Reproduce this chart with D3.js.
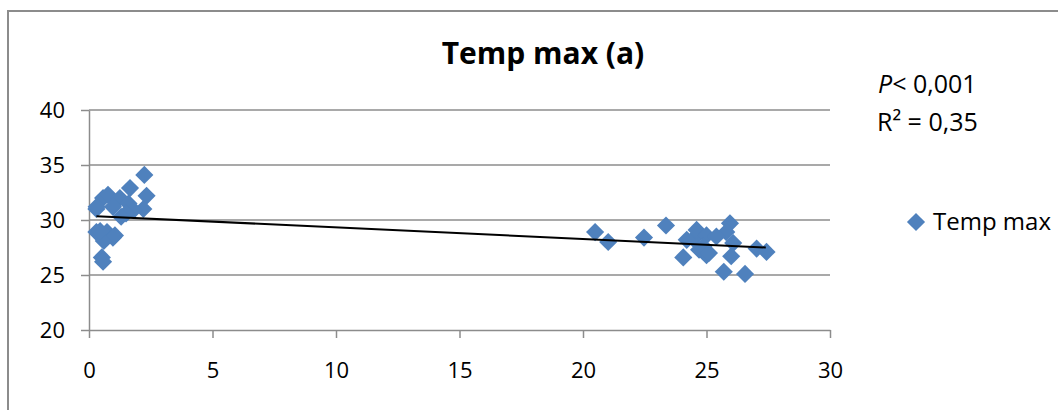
<!DOCTYPE html>
<html>
<head>
<meta charset="utf-8">
<script src="https://cdn.jsdelivr.net/npm/d3@7"></script>
<style>
  body { margin: 0; background: #fff; }
  svg { display: block; font-family: "Open Sans", "Liberation Sans", sans-serif; }
</style>
</head>
<body>
<svg id="graph"></svg>
<script>
// points (jours, temp max)
var dayValues = [0.3, 0.57, 0.77, 1.25, 1.66, 2.24, 2.33, 0.31, 0.97, 1.6, 2.2, 1.8, 1.5, 0.3, 0.73, 0.97, 0.6, 1.05, 0.52, 0.57, 0.45, 1.3,
                 20.49, 21.02, 22.47, 23.36, 24.06, 24.47, 24.6, 25.0, 25.0, 24.87, 25.95, 25.8, 25.4, 26.08, 26.0, 25.7, 26.56, 27.03, 27.43, 24.2, 24.7, 25.1];
var tempValues = [31.0, 32.0, 32.3, 32.0, 32.9, 34.1, 32.2, 31.2, 31.2, 31.5, 31.0, 30.9, 30.6, 28.9, 28.9, 28.4, 28.1, 28.6, 26.6, 26.2, 29.0, 30.3,
                  28.9, 28.0, 28.4, 29.5, 26.6, 28.3, 29.1, 28.6, 26.8, 27.6, 29.7, 28.9, 28.5, 27.9, 26.7, 25.3, 25.1, 27.4, 27.1, 28.2, 27.3, 27.0];
// courbe de tendance (extrémités)
var trendX = [0.3, 27.4];
var trendY = [30.35, 27.5];
var xTicks = [0, 5, 10, 15, 20, 25, 30];
var yTicks = [20, 25, 30, 35, 40];
var titleText = "Temp max (a)";
var seriesName = "Temp max";

var w = 1058, h = 410;
var svg = d3.select("#graph").attr("width", w).attr("height", h);

// cadre du graphique
svg.append("rect")
    .attr("x", 8).attr("y", 11)
    .attr("width", 1100).attr("height", 450)
    .attr("fill", "none")
    .attr("stroke", "#8c8c8c")
    .attr("stroke-width", 2);

var scaleX = d3.scaleLinear().domain([0, 30]).range([89, 830]);
var scaleY = d3.scaleLinear().domain([20, 40]).range([330, 110]);

// grille horizontale
svg.append("g").selectAll("line")
    .data(yTicks.slice(1))
    .enter().append("line")
    .attr("x1", scaleX(0)).attr("x2", scaleX(30))
    .attr("y1", function(d){ return scaleY(d); })
    .attr("y2", function(d){ return scaleY(d); })
    .attr("stroke", "#8c8c8c")
    .attr("stroke-width", 1.5);

var axisX = d3.axisBottom(scaleX).tickValues(xTicks).tickSize(8).tickPadding(24).tickSizeOuter(0);
var axisY = d3.axisLeft(scaleY).tickValues(yTicks).tickSize(8).tickPadding(16).tickSizeOuter(0);

var gx = svg.append("g")
    .attr("transform", "translate(0," + scaleY(20) + ")")
    .call(axisX);
var gy = svg.append("g")
    .attr("transform", "translate(" + scaleX(0) + ",0)")
    .call(axisY);

[gx, gy].forEach(function(g){
    g.selectAll("path, line").attr("stroke", "#8c8c8c").attr("stroke-width", 1.5);
    g.selectAll("text").attr("fill", "#000").attr("font-size", 22).attr("font-family", "Open Sans, sans-serif");
});
gy.selectAll("text").attr("dy", "0.35em");

// points
var diamond = d3.symbol().type(d3.symbolDiamond2).size(210);
svg.append("g").selectAll("path")
    .data(dayValues)
    .enter().append("path")
    .attr("d", diamond)
    .attr("transform", function(d, i){ return "translate(" + scaleX(d) + "," + scaleY(tempValues[i]) + ")"; })
    .attr("fill", "#4f81bd");

// tendance
svg.append("line")
    .attr("x1", scaleX(trendX[0])).attr("y1", scaleY(trendY[0]))
    .attr("x2", scaleX(trendX[1])).attr("y2", scaleY(trendY[1]))
    .attr("stroke", "#000")
    .attr("stroke-width", 2);

// titre
svg.append("text")
    .attr("x", 543).attr("y", 64)
    .attr("text-anchor", "middle")
    .attr("font-size", 30)
    .attr("font-weight", "bold")
    .text(titleText);

// P et R²
var pt = svg.append("text").attr("x", 878).attr("y", 93).attr("font-size", 25);
pt.append("tspan").attr("font-style", "italic").text("P");
pt.append("tspan").text("< 0,001");
svg.append("text").attr("x", 877).attr("y", 131).attr("font-size", 25).text("R² = 0,35");

// légende
svg.append("path")
    .attr("d", d3.symbol().type(d3.symbolDiamond2).size(210))
    .attr("transform", "translate(916,222)")
    .attr("fill", "#4f81bd");
svg.append("text").attr("x", 933).attr("y", 230).attr("font-size", 24).text(seriesName);
</script>
</body>
</html>
